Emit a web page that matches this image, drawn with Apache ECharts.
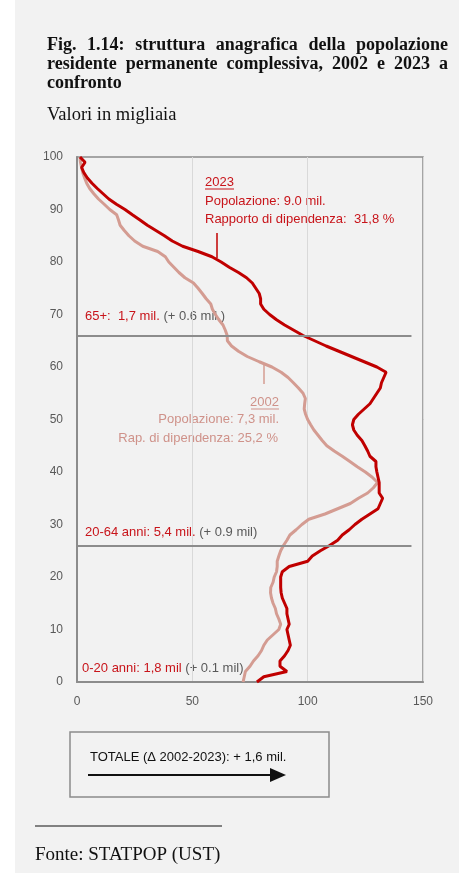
<!DOCTYPE html>
<html>
<head>
<meta charset="utf-8">
<script src="https://cdn.jsdelivr.net/npm/echarts@6/dist/echarts.min.js"></script>
<style>
  html, body { margin: 0; padding: 0; background: #ffffff; }
  #panel { position: absolute; left: 15px; top: 0; width: 444px; height: 873px; background: #f2f2f2; }
  #chart { position: absolute; left: 0; top: 0; width: 459px; height: 879px; }
</style>
</head>
<body>
<div id="panel"></div>
<div id="chart"></div>
<script>
// ---- DATA (migliaia di persone per età 0..100) ----
const pop2023 = [
  78, 81, 91, 88, 88, 90, 91.5, 92.5, 92, 91.5,
  91, 92, 91.5, 91, 91, 90, 89, 88.5, 88.3, 88.3,
  88.3, 89, 92, 100, 102, 105.5, 109.5, 113, 115, 118,
  120.5, 123.5, 127, 130.5, 131.5, 132.5, 131, 131, 131, 130.5,
  130, 129.6, 129.6, 127, 126, 124.8, 123.5, 121.5, 120, 119.4,
  120, 122, 124.5, 127, 128.5, 130, 131.5, 132, 133, 134,
  130, 124.5, 119, 113.5, 108, 103, 98, 94, 90, 86.5,
  83.5, 81, 79.6, 79.6, 79, 77.5, 76, 73.5, 70, 66,
  62.5, 58.5, 52.5, 45.8, 41.3, 37.9, 34.2, 30.5, 27.3, 24,
  20.8, 17.1, 13.8, 11.3, 8.8, 6.5, 4.5, 3, 2, 3.5,
  1.3
];
const pop2002 = [
  72, 72.5, 73, 75, 76.5, 78.5, 80, 81, 82.5, 85,
  87.5, 88.3, 87.5, 86.5, 86, 85, 84.3, 83.9, 84, 85,
  85.5, 86.5, 86.8, 86.8, 87.5, 88.3, 89.5, 91, 92.3, 95,
  97.5, 100.5, 107.5, 113, 118.5, 122, 126, 128.5, 130.3, 128,
  125, 121.5, 118.3, 115, 111.5, 108.3, 106.3, 104.5, 102.7, 101.3,
  100, 99.1, 98.5, 98.7, 99, 98, 96, 93.8, 91.5, 88.5,
  84.5, 79, 73.8, 70, 67, 65.2, 65.1, 64.3, 63.3, 61.5,
  60, 58.7, 58, 56, 54.3, 52.5, 50.5, 46.8, 44.2, 42,
  39.8, 38.3, 35, 28.5, 25, 22.5, 20.5, 18.7, 18, 17.2,
  14.2, 11.8, 9.3, 7.3, 5.5, 4.2, 3.3, 2.5, 2, 1.5,
  1.3
];
const ages = pop2023.map((_, i) => i);
const xTicks = [0, 50, 100, 150];
const yTicks = [0, 10, 20, 30, 40, 50, 60, 70, 80, 90, 100];
const groupBoundaries = [26, 66];   // linee di separazione delle classi d'età
const boundaryEnd = 145;

// ---- COLOURS ----
const RED = '#c00000';
const RED_TXT = '#c8141a';
const ROSE = '#d49c92';
const ROSE_TXT = '#cf928a';
const GREY_TXT = '#595959';

const chart = echarts.init(document.getElementById('chart'), null, { renderer: 'canvas' });

// justify helper for title lines
const measureCtx = document.createElement('canvas').getContext('2d');
function justified(text, x, y, width, fontSize, weight, family, last) {
  const words = text.split(' ');
  const font = weight + ' ' + fontSize + 'px ' + family;
  measureCtx.font = font;
  const ws = words.map(w => measureCtx.measureText(w).width);
  const total = ws.reduce((a, b) => a + b, 0);
  const gap = last ? measureCtx.measureText(' ').width : (width - total) / (words.length - 1);
  let cx = x;
  return words.map((w, i) => {
    const el = { type: 'text', x: cx, y: y, style: { text: w, font: font, fill: '#111111', textVerticalAlign: 'middle' } };
    cx += ws[i] + gap;
    return el;
  });
}
const SERIF = '"Liberation Serif", "Times New Roman", serif';
const SANS = '"Liberation Sans", Arial, sans-serif';
const TSIZE = 18;

const graphics = [].concat(
  justified('Fig. 1.14: struttura anagrafica della popolazione', 47, 45, 401, TSIZE, 'bold', SERIF, false),
  justified('residente permanente complessiva, 2002 e 2023 a', 47, 64, 401, TSIZE, 'bold', SERIF, false),
  justified('confronto', 47, 83, 401, TSIZE, 'bold', SERIF, true),
  [
    { type: 'text', x: 47, y: 115, style: { text: 'Valori in migliaia', font: '18.5px ' + SERIF, fill: '#111111', textVerticalAlign: 'middle' } },
    // 2023 annotation
    { type: 'text', x: 205, y: 182, style: { text: '2023', font: '13px ' + SANS, fill: RED_TXT, textVerticalAlign: 'middle' } },
    { type: 'line', shape: { x1: 205, y1: 189, x2: 234, y2: 189 }, style: { stroke: RED_TXT, lineWidth: 1 } },
    { type: 'text', x: 205, y: 201, style: { text: 'Popolazione: 9.0 mil.', font: '13px ' + SANS, fill: RED_TXT, textVerticalAlign: 'middle' } },
    { type: 'text', x: 205, y: 219.5, style: { text: 'Rapporto di dipendenza:  31,8 %', font: '13px ' + SANS, fill: RED_TXT, textVerticalAlign: 'middle' } },
    { type: 'line', shape: { x1: 217, y1: 233, x2: 217, y2: 258 }, style: { stroke: RED, lineWidth: 1.5 } },
    // 2002 annotation
    { type: 'text', x: 279, y: 402, style: { text: '2002', font: '13px ' + SANS, fill: ROSE_TXT, textAlign: 'right', textVerticalAlign: 'middle' } },
    { type: 'line', shape: { x1: 251, y1: 409, x2: 279, y2: 409 }, style: { stroke: ROSE_TXT, lineWidth: 1 } },
    { type: 'text', x: 279, y: 419.5, style: { text: 'Popolazione: 7,3 mil.', font: '13px ' + SANS, fill: ROSE_TXT, textAlign: 'right', textVerticalAlign: 'middle' } },
    { type: 'text', x: 278, y: 438.5, style: { text: 'Rap. di dipendenza: 25,2 %', font: '13px ' + SANS, fill: ROSE_TXT, textAlign: 'right', textVerticalAlign: 'middle' } },
    { type: 'line', shape: { x1: 264, y1: 365, x2: 264, y2: 384 }, style: { stroke: ROSE, lineWidth: 1.5 } },
    // age groups
    { type: 'text', x: 85, y: 316, style: { text: '{r|65+:  1,7 mil.} {g|(+ 0.6 mil.)}', font: '13px ' + SANS, textVerticalAlign: 'middle',
      rich: { r: { fill: RED_TXT, font: '13px ' + SANS }, g: { fill: GREY_TXT, font: '13px ' + SANS } } } },
    { type: 'text', x: 85, y: 532, style: { text: '{r|20-64 anni: 5,4 mil.} {g|(+ 0.9 mil)}', font: '13px ' + SANS, textVerticalAlign: 'middle',
      rich: { r: { fill: RED_TXT, font: '13px ' + SANS }, g: { fill: GREY_TXT, font: '13px ' + SANS } } } },
    { type: 'text', x: 82, y: 668, style: { text: '{r|0-20 anni: 1,8 mil} {g|(+ 0.1 mil)}', font: '13px ' + SANS, textVerticalAlign: 'middle',
      rich: { r: { fill: RED_TXT, font: '13px ' + SANS }, g: { fill: GREY_TXT, font: '13px ' + SANS } } } },
    // total box
    { type: 'rect', shape: { x: 70, y: 732, width: 259, height: 65 }, style: { fill: 'none', stroke: '#8c8c8c', lineWidth: 1.5 } },
    { type: 'text', x: 90, y: 757, style: { text: 'TOTALE (Δ 2002-2023): + 1,6 mil.', font: '13px ' + SANS, fill: '#111111', textVerticalAlign: 'middle' } },
    { type: 'line', shape: { x1: 88, y1: 775, x2: 272, y2: 775 }, style: { stroke: '#111111', lineWidth: 2 } },
    { type: 'polygon', shape: { points: [[270, 768], [286, 775], [270, 782]] }, style: { fill: '#111111' } },
    // footnote
    { type: 'line', shape: { x1: 35, y1: 826, x2: 222, y2: 826 }, style: { stroke: '#111111', lineWidth: 1 } },
    { type: 'text', x: 35, y: 855, style: { text: 'Fonte: STATPOP (UST)', font: '19px ' + SERIF, fill: '#111111', textVerticalAlign: 'middle' } }
  ]
);

const option = {
  animation: false,
  backgroundColor: 'transparent',
  grid: { left: 77, right: 36, top: 157, bottom: 197, show: true, borderColor: '#8c8c8c', borderWidth: 1.5, backgroundColor: 'transparent' },
  xAxis: {
    type: 'value', min: xTicks[0], max: xTicks[xTicks.length - 1], interval: 50,
    axisLine: { show: true, lineStyle: { color: '#8c8c8c', width: 2 } },
    axisTick: { show: false },
    axisLabel: { color: GREY_TXT, fontSize: 12, fontFamily: SANS, margin: 14 },
    splitLine: { show: true, lineStyle: { color: '#d9d9d9', width: 1 } }
  },
  yAxis: {
    type: 'value', min: yTicks[0], max: yTicks[yTicks.length - 1], interval: 10,
    axisLine: { show: true, lineStyle: { color: '#8c8c8c', width: 2 } },
    axisTick: { show: false },
    axisLabel: { color: GREY_TXT, fontSize: 12, fontFamily: SANS, margin: 14 },
    splitLine: { show: false }
  },
  series: [
    {
      name: '2002', type: 'line', showSymbol: false, smooth: false,
      data: ages.map((a, i) => [pop2002[i], a]),
      lineStyle: { color: ROSE, width: 3 },
      itemStyle: { color: ROSE },
      markLine: {
        silent: true, symbol: ['none', 'none'], label: { show: false },
        lineStyle: { color: '#8c8c8c', width: 2, type: 'solid' },
        data: groupBoundaries.map(b => [{ coord: [0, b] }, { coord: [boundaryEnd, b] }])
      },
      z: 2
    },
    {
      name: '2023', type: 'line', showSymbol: false, smooth: false,
      data: ages.map((a, i) => [pop2023[i], a]),
      lineStyle: { color: RED, width: 3 },
      itemStyle: { color: RED },
      z: 3
    }
  ],
  graphic: graphics
};
chart.setOption(option);
</script>
</body>
</html>
